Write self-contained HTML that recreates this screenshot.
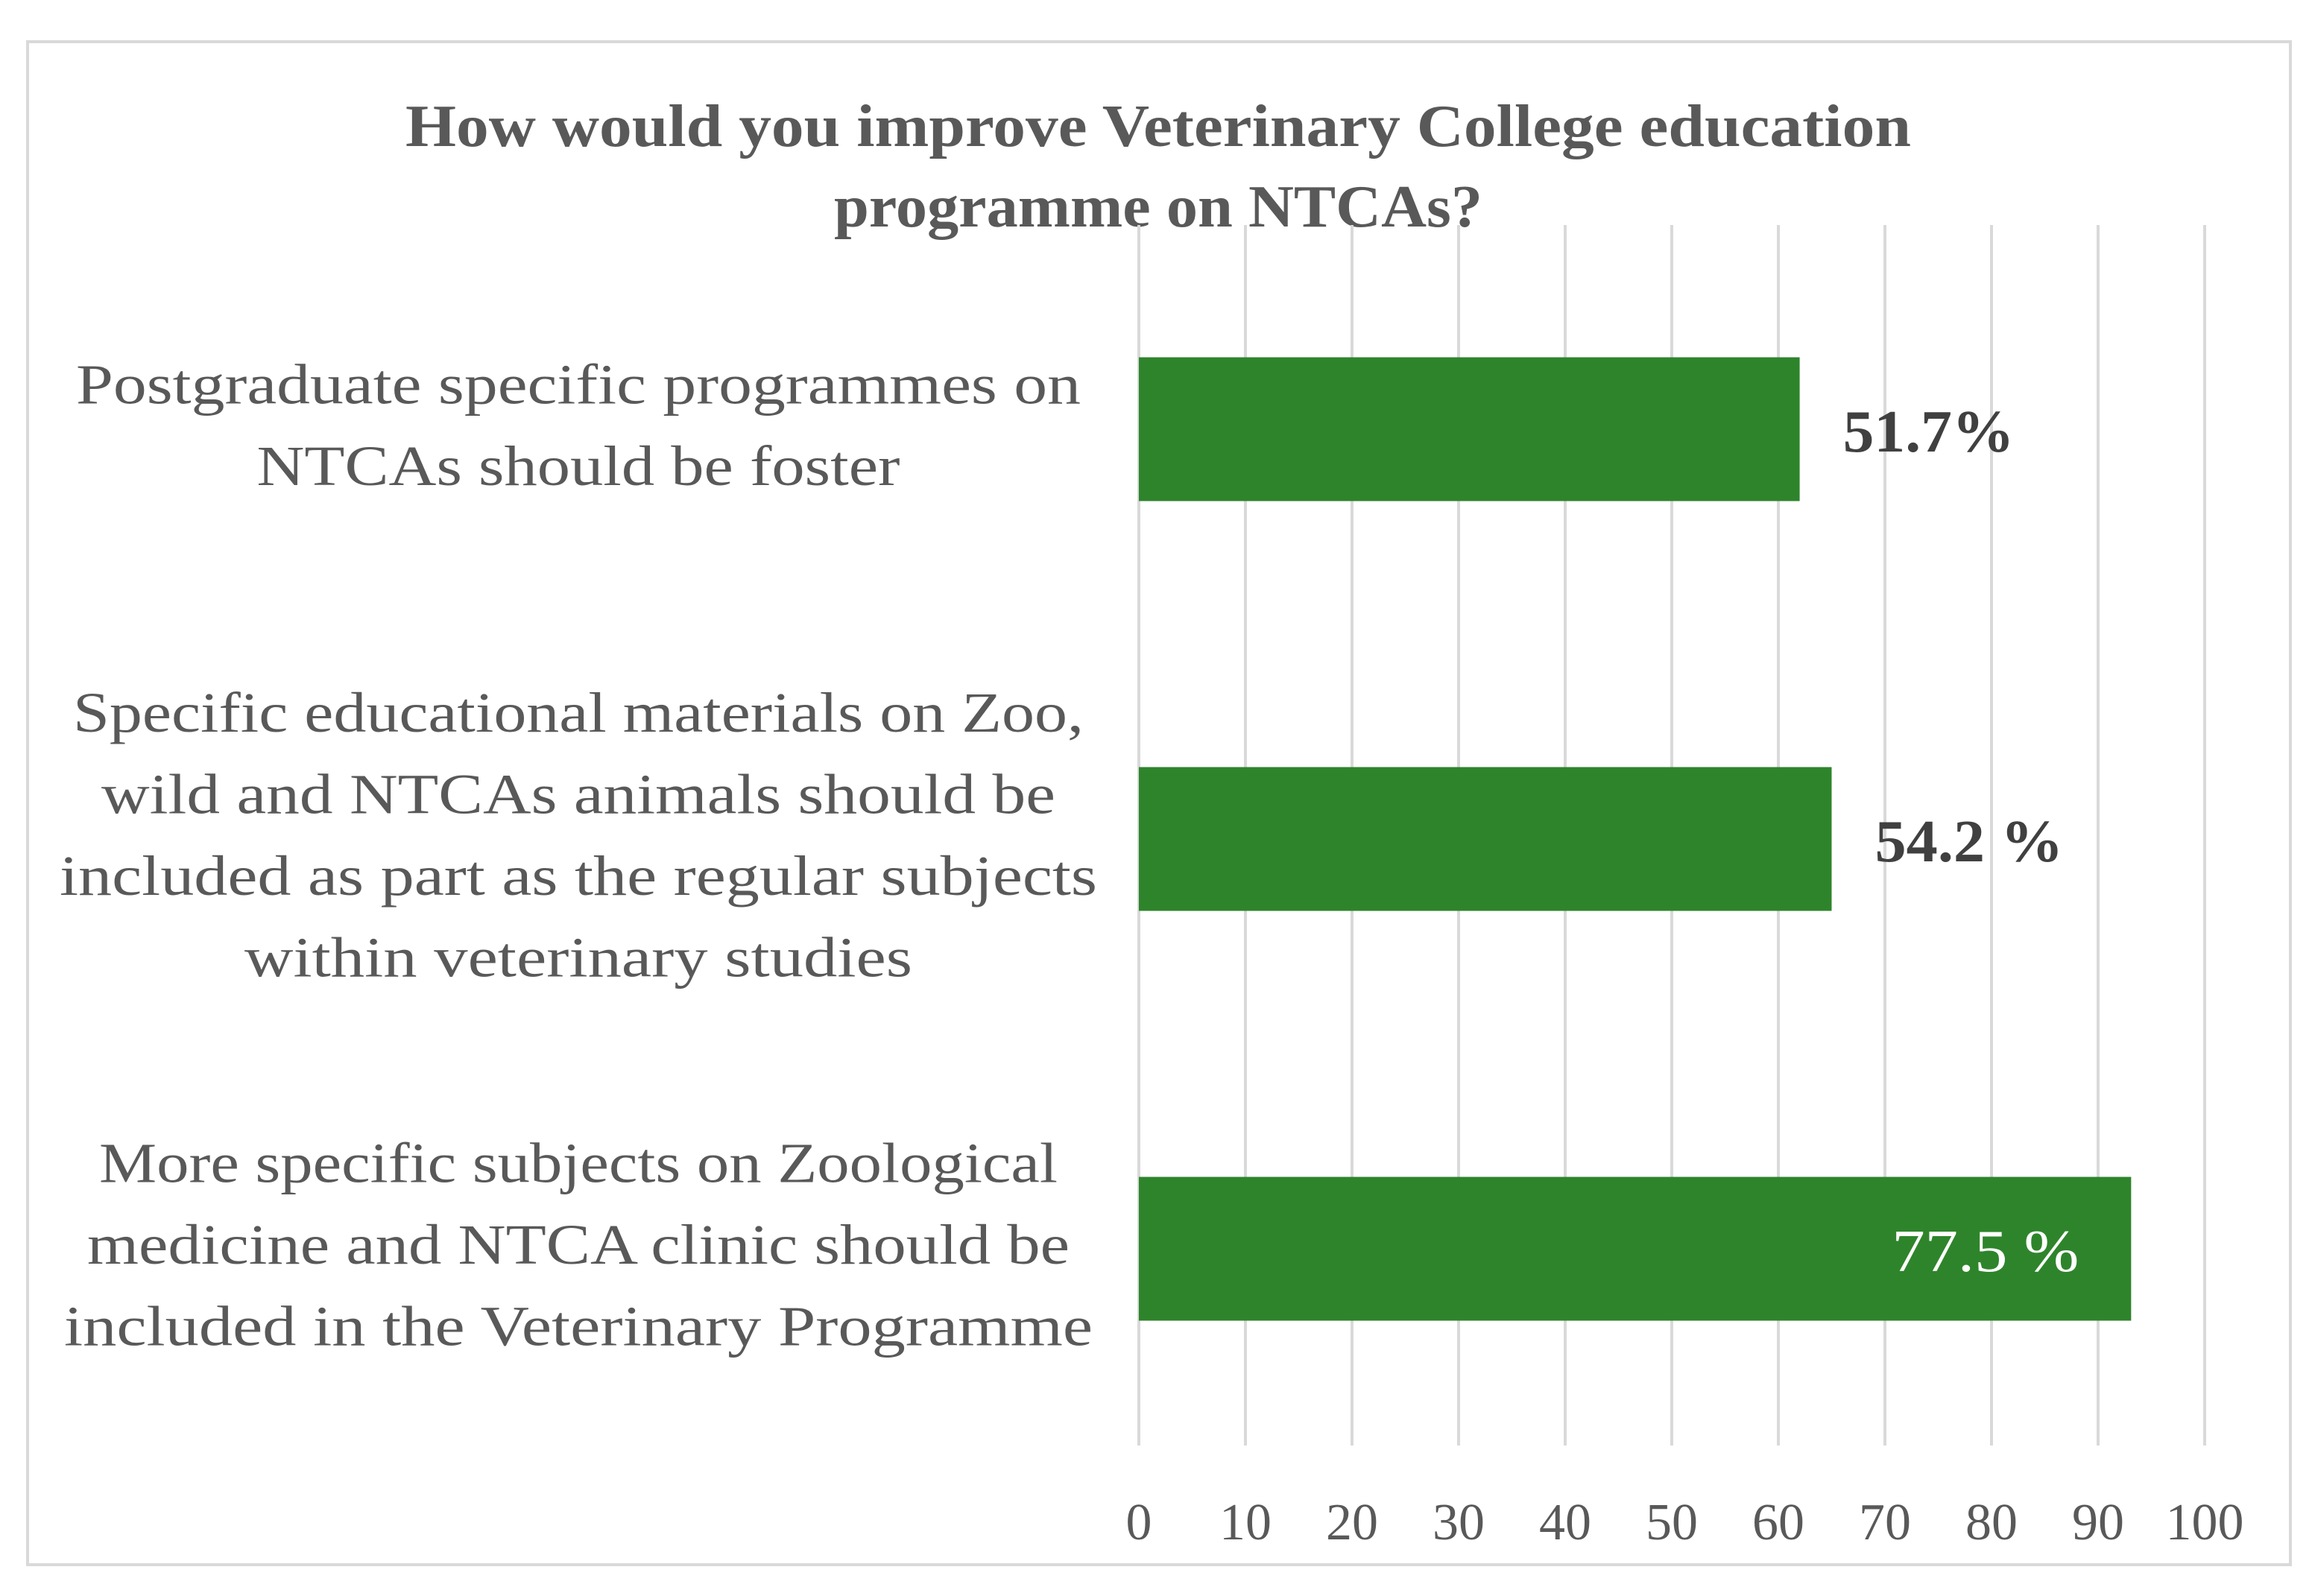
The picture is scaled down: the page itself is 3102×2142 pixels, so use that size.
<!DOCTYPE html>
<html><head><meta charset="utf-8"><style>
html,body{margin:0;padding:0;background:#fff;}
svg{display:block;}
text{font-family:"Liberation Serif",serif;}
</style></head><body>
<svg id="chart" width="3102" height="2142" viewBox="0 0 3102 2142" xmlns="http://www.w3.org/2000/svg">
<rect x="37" y="56" width="3036" height="2044" fill="#fff" stroke="#d9d9d9" stroke-width="4"/>
<g fill="#595959" font-weight="bold" font-size="80" text-anchor="middle">
<text x="1554" y="196" textLength="2020" lengthAdjust="spacingAndGlyphs">How would you improve Veterinary College education</text>
<text x="1554" y="304" textLength="870" lengthAdjust="spacingAndGlyphs">programme on NTCAs?</text>
</g>
<g id="grid"></g>
<g id="bars"></g>
<g id="cats"></g>
<g id="ticks"></g>
</svg>
<script>
const categories=["Postgraduate specific programmes on NTCAs should be foster","Specific educational materials on Zoo, wild and NTCAs animals should be included as part as the regular subjects within veterinary studies","More specific subjects on Zoological medicine and NTCA clinic should be included in the Veterinary Programme"];
const values=[62,65,93.1];
const valueLabels=["51.7%","54.2 %","77.5 %"];
const tickValues=[0,10,20,30,40,50,60,70,80,90,100];
const catLines=[["Postgraduate specific programmes on","NTCAs should be foster"],["Specific educational materials on Zoo,","wild and NTCAs animals should be","included as part as the regular subjects","within veterinary studies"],["More specific subjects on Zoological","medicine and NTCA clinic should be","included in the Veterinary Programme"]];
const catLineWidths=[[1348,863],[1356,1280,1392,896],[1286,1318,1380]];
const NS="http://www.w3.org/2000/svg";
const X0=1528,X1=2958,gridTop=302,gridBot=1940;
function xs(v){return X0+(X1-X0)*v/100;}
function bandC(i){return 576+i*550;}
function mk(tag,attrs,parent){const e=document.createElementNS(NS,tag);for(const k in attrs)e.setAttribute(k,attrs[k]);parent.appendChild(e);return e;}
const grid=document.getElementById('grid'),bars=document.getElementById('bars'),cats=document.getElementById('cats'),ticks=document.getElementById('ticks');
tickValues.forEach(t=>{
 const l=mk('line',{x1:xs(t),x2:xs(t),y1:gridTop,y2:gridBot,stroke:'#d9d9d9','stroke-width':4},grid);
 
 
 const tx=mk('text',{x:xs(t),y:2066,'font-size':70,fill:'#595959','text-anchor':'middle'},ticks);
 tx.textContent=String(t);
 
 
});
const bh=193;
values.forEach((v,i)=>{
 const c=bandC(i);
 const r=mk('rect',{x:xs(0),y:c-bh/2,width:xs(v)-xs(0),height:bh,fill:'#2e842b'},bars);
 
 
 const inside=i===2;
 const lw=[230,253,251][i];
 const lx=inside? xs(v)-70-lw : xs(v)+58;
 const t=mk('text',{x:lx,y:c+30,'font-size':80,fill:inside?'#ffffff':'#404040','font-weight':inside?'normal':'bold',textLength:lw,lengthAdjust:'spacingAndGlyphs'},bars);
 t.textContent=valueLabels[i];
 
 
});
catLines.forEach((lines,i)=>{
 const c=bandC(i);
 const lh=109.5;
 const start=c-(lines.length-1)*lh/2+20;
 const g=mk('g',{},cats);
 
 
 lines.forEach((ln,j)=>{
  const t=mk('text',{x:776,y:start+j*lh,'font-size':76,fill:'#595959','text-anchor':'middle',textLength:catLineWidths[i][j],lengthAdjust:'spacingAndGlyphs'},g);
  t.textContent=ln;
 });
});
</script>
</body></html>
